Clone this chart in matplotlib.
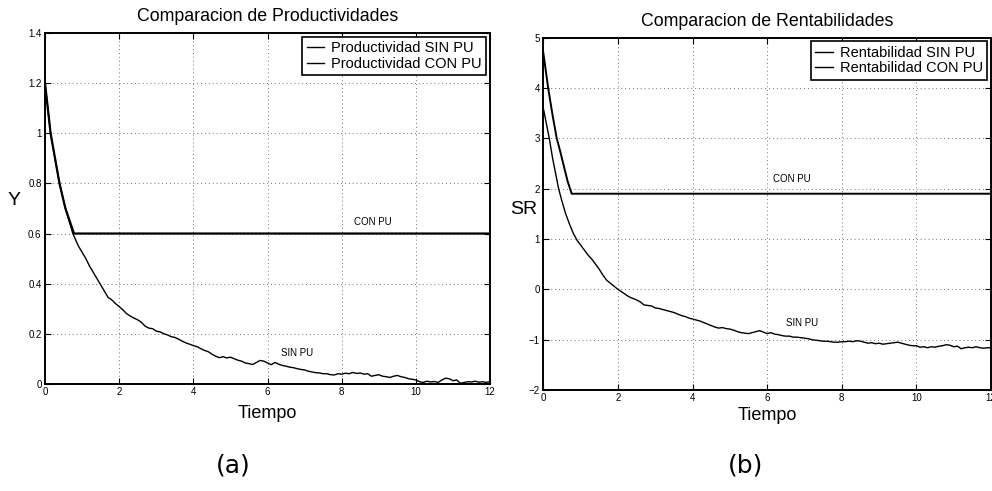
import matplotlib
matplotlib.use("Agg")
import matplotlib.pyplot as plt
from matplotlib.ticker import FuncFormatter

plt.rcParams['font.family'] = ['Liberation Sans', 'DejaVu Sans']

# --- (a) productividad ---
t_prod_ini = [0, 0.15, 0.39, 0.55, 0.75, 0.9, 1.0, 1.1, 1.2, 1.3, 1.4, 1.5, 1.6, 1.7, 1.8, 1.9]
y_prod_ini = [1.2, 1.0, 0.8, 0.7, 0.6, 0.55, 0.525, 0.5, 0.47, 0.445, 0.42, 0.395, 0.37, 0.345, 0.335, 0.32]

t_cola = [2.0, 2.1, 2.2, 2.3, 2.4, 2.5, 2.6, 2.7, 2.8, 2.9,
          3.0, 3.1, 3.2, 3.3, 3.4, 3.5, 3.6, 3.7, 3.8, 3.9,
          4.0, 4.1, 4.2, 4.3, 4.4, 4.5, 4.6, 4.7, 4.8, 4.9,
          5.0, 5.1, 5.2, 5.3, 5.4, 5.5, 5.6, 5.7, 5.8, 5.9,
          6.0, 6.1, 6.2, 6.3, 6.4, 6.5, 6.6, 6.7, 6.8, 6.9,
          7.0, 7.1, 7.2, 7.3, 7.4, 7.5, 7.6, 7.7, 7.8, 7.9,
          8.0, 8.1, 8.2, 8.3, 8.4, 8.5, 8.6, 8.7, 8.8, 8.9,
          9.0, 9.1, 9.2, 9.3, 9.4, 9.5, 9.6, 9.7, 9.8, 9.9,
          10.0, 10.1, 10.2, 10.3, 10.4, 10.5, 10.6, 10.7, 10.8, 10.9,
          11.0, 11.1, 11.2, 11.3, 11.4, 11.5, 11.6, 11.7, 11.8, 11.9, 12.0]

y_prod_cola = [0.308, 0.295, 0.28, 0.27, 0.262, 0.255, 0.245, 0.23, 0.222, 0.22,
               0.21, 0.207, 0.2, 0.195, 0.188, 0.185, 0.178, 0.17, 0.163, 0.158,
               0.152, 0.148, 0.14, 0.133, 0.128, 0.118, 0.11, 0.104, 0.108, 0.103,
               0.106, 0.1, 0.094, 0.09, 0.083, 0.08, 0.077, 0.085, 0.093, 0.09,
               0.083, 0.076, 0.085, 0.078, 0.073, 0.07, 0.066, 0.064, 0.06, 0.057,
               0.055, 0.05, 0.047, 0.044, 0.043, 0.04, 0.04, 0.036, 0.035, 0.04,
               0.038, 0.042, 0.04, 0.045, 0.041, 0.043, 0.038, 0.04, 0.03, 0.033,
               0.036, 0.03, 0.028, 0.025, 0.03, 0.033, 0.028, 0.025, 0.02, 0.018,
               0.015, 0.008, 0.005, 0.01, 0.007, 0.009, 0.005, 0.015, 0.022, 0.02,
               0.012, 0.015, 0.002, 0.005, 0.008, 0.007, 0.01, 0.006, 0.008, 0.005, 0.009]

t_prod_con = [0, 0.15, 0.39, 0.55, 0.78, 12]
y_prod_con = [1.2, 1.0, 0.8, 0.7, 0.6, 0.6]

# --- (b) rentabilidad ---
t_rent_ini = [0, 0.08, 0.16, 0.25, 0.33, 0.41, 0.5, 0.6, 0.7, 0.8, 0.9, 1.0, 1.1, 1.2, 1.3,
              1.4, 1.5, 1.6, 1.7, 1.8, 1.9]
y_rent_ini = [3.6, 3.3, 3.0, 2.6, 2.3, 2.0, 1.75, 1.5, 1.3, 1.12, 0.98, 0.88, 0.78, 0.68, 0.6,
              0.5, 0.4, 0.28, 0.18, 0.12, 0.06]

y_rent_cola = [0.0, -0.05, -0.1, -0.15, -0.18, -0.21, -0.25, -0.31, -0.32, -0.33,
               -0.37, -0.38, -0.4, -0.42, -0.44, -0.46, -0.49, -0.52, -0.54, -0.57,
               -0.59, -0.61, -0.63, -0.66, -0.69, -0.72, -0.75, -0.77, -0.76, -0.78,
               -0.79, -0.81, -0.84, -0.86, -0.87, -0.88, -0.86, -0.84, -0.82, -0.85,
               -0.88, -0.86, -0.89, -0.9, -0.92, -0.93, -0.93, -0.95, -0.95, -0.96,
               -0.97, -0.98, -1.0, -1.01, -1.02, -1.03, -1.03, -1.04, -1.05, -1.05,
               -1.04, -1.04, -1.03, -1.04, -1.02, -1.03, -1.05, -1.07, -1.06, -1.08,
               -1.07, -1.09, -1.08, -1.07, -1.06, -1.05, -1.07, -1.09, -1.11, -1.12,
               -1.12, -1.15, -1.14, -1.16, -1.14, -1.15, -1.13, -1.12, -1.1, -1.11,
               -1.14, -1.13, -1.18, -1.16, -1.15, -1.16, -1.14, -1.16, -1.17, -1.16, -1.16]

t_rent_con = [0, 0.13, 0.25, 0.36, 0.45, 0.55, 0.65, 0.76, 12]
y_rent_con = [4.7, 4.0, 3.45, 3.0, 2.75, 2.45, 2.15, 1.9, 1.9]

xticks = [0, 2, 4, 6, 8, 10, 12]

fmt = FuncFormatter(lambda v, p: f'{v:g}'.replace('-', '\u2212'))


def preparar(ax, ylim, yticks):
    ax.set_xlim(0, 12)
    ax.set_ylim(*ylim)
    ax.set_xticks(xticks)
    ax.set_yticks(yticks)
    ax.xaxis.set_major_formatter(fmt)
    ax.yaxis.set_major_formatter(fmt)
    ax.tick_params(direction='in', length=4, width=0.8, labelsize=7, pad=2.5,
                   top=True, right=True)
    ax.grid(True, linestyle=(0, (1, 3)), color='0.45', linewidth=0.7)
    for s in ax.spines.values():
        s.set_linewidth(1.4)


fig = plt.figure(figsize=(9.92, 4.91), dpi=100)
ax1 = fig.add_axes([0.0454, 0.2185, 0.4486, 0.7137])
ax2 = fig.add_axes([0.5477, 0.2057, 0.4513, 0.7175])

# (a)
preparar(ax1, (0, 1.4), [0, 0.2, 0.4, 0.6, 0.8, 1, 1.2, 1.4])
ax1.plot(t_prod_ini + t_cola, y_prod_ini + y_prod_cola, color='black', lw=1.0,
         label='Productividad SIN PU')
ax1.plot(t_prod_con, y_prod_con, color='black', lw=1.6, label='Productividad CON PU')
ax1.text(8.85, 0.645, 'CON PU', fontsize=7, ha='center', va='center')
ax1.text(6.8, 0.124, 'SIN PU', fontsize=7, ha='center', va='center')
ax1.text(0.5, 1.047, 'Comparacion de Productividades', transform=ax1.transAxes,
         fontsize=12.8, ha='center', va='center')
ax1.text(-0.07, 0.524, 'Y', transform=ax1.transAxes, fontsize=14, ha='center', va='center')
ax1.text(0.5, -0.084, 'Tiempo', transform=ax1.transAxes, fontsize=13, ha='center', va='center')

# (b)
preparar(ax2, (-2, 5), [-2, -1, 0, 1, 2, 3, 4, 5])
ax2.plot(t_rent_ini + t_cola, y_rent_ini + y_rent_cola, color='black', lw=1.0,
         label='Rentabilidad SIN PU')
ax2.plot(t_rent_con, y_rent_con, color='black', lw=1.4, label='Rentabilidad CON PU')
ax2.text(6.66, 2.2, 'CON PU', fontsize=7, ha='center', va='center')
ax2.text(6.93, -0.66, 'SIN PU', fontsize=7, ha='center', va='center')
ax2.text(0.5, 1.047, 'Comparacion de Rentabilidades', transform=ax2.transAxes,
         fontsize=12.8, ha='center', va='center')
ax2.text(-0.044, 0.511, 'SR', transform=ax2.transAxes, fontsize=14, ha='center', va='center')
ax2.text(0.5, -0.071, 'Tiempo', transform=ax2.transAxes, fontsize=13, ha='center', va='center')

for ax in (ax1, ax2):
    leg = ax.legend(loc='upper right', fontsize=10.5, fancybox=False, framealpha=1,
                    edgecolor='black', borderaxespad=0.25, handlelength=1.2,
                    handletextpad=0.5, borderpad=0.3, labelspacing=0.1)
    leg.get_frame().set_linewidth(1.2)
    for ln in leg.get_lines():
        ln.set_linewidth(1.0)

fig.text(233 / 992, 1 - 465 / 491, '(a)', fontsize=18, ha='center', va='center',
         family='DejaVu Sans')
fig.text(746 / 992, 1 - 465 / 491, '(b)', fontsize=18, ha='center', va='center',
         family='DejaVu Sans')

fig.savefig('out.png', dpi=100)
